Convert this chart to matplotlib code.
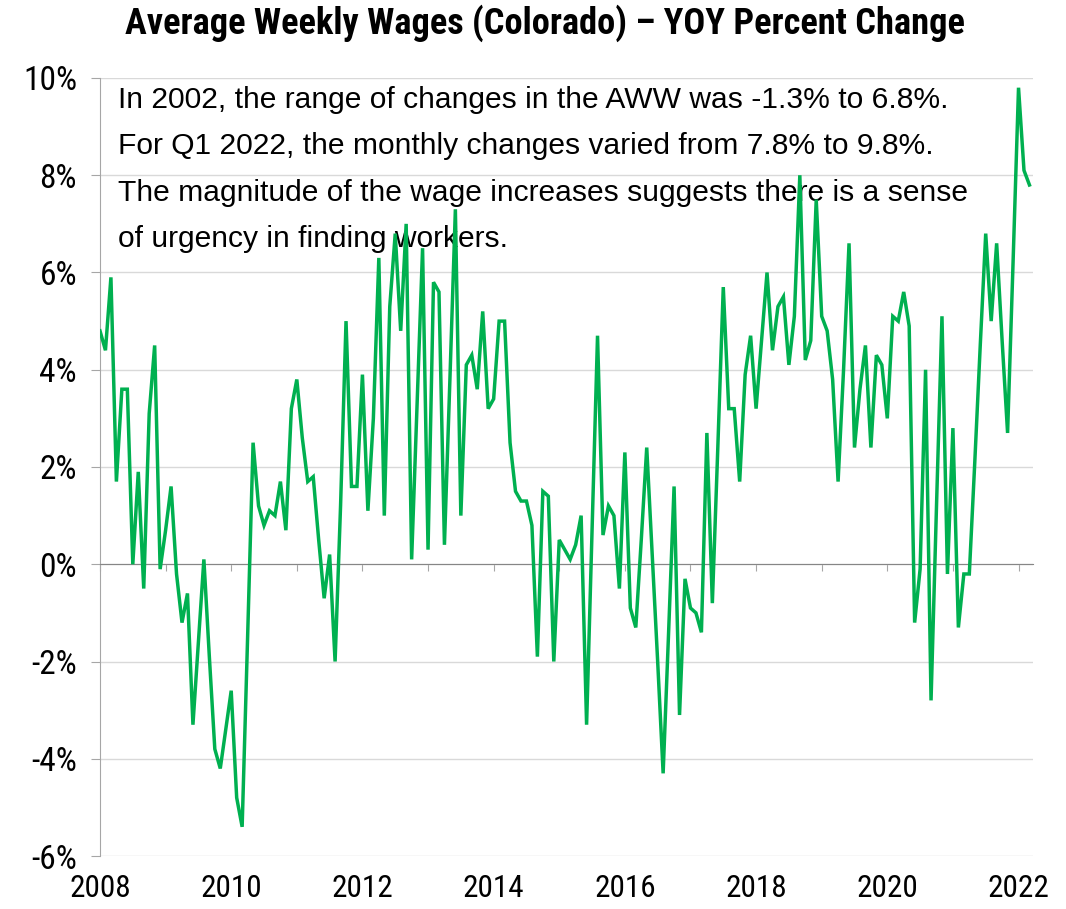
import numpy as np
import matplotlib.pyplot as plt
from matplotlib.ticker import MultipleLocator, FuncFormatter

# monthly YOY % change, Jan 2008 .. Mar 2022
yoy_2008 = [4.8, 4.4, 5.9, 1.7, 3.6, 3.6, 0.0, 1.9, -0.5, 3.1, 4.5, -0.1]
yoy_2009 = [0.7, 1.6, -0.2, -1.2, -0.6, -3.3, -1.6, 0.1, -1.9, -3.8, -4.2, -3.4]
yoy_2010 = [-2.6, -4.8, -5.4, -1.5, 2.5, 1.2, 0.8, 1.1, 1.0, 1.7, 0.7, 3.2]
yoy_2011 = [3.8, 2.6, 1.7, 1.8, 0.5, -0.7, 0.2, -2.0, 1.2, 5.0, 1.6, 1.6]
yoy_2012 = [3.9, 1.1, 3.0, 6.3, 1.0, 5.3, 6.8, 4.8, 7.0, 0.1, 3.3, 6.5]
yoy_2013 = [0.3, 5.8, 5.6, 0.4, 3.8, 7.3, 1.0, 4.1, 4.3, 3.6, 5.2, 3.2]
yoy_2014 = [3.4, 5.0, 5.0, 2.5, 1.5, 1.3, 1.3, 0.8, -1.9, 1.5, 1.4, -2.0]
yoy_2015 = [0.5, 0.3, 0.1, 0.4, 1.0, -3.3, 0.7, 4.7, 0.6, 1.2, 1.0, -0.5]
yoy_2016 = [2.3, -0.9, -1.3, 0.5, 2.4, 0.2, -2.0, -4.3, -1.4, 1.6, -3.1, -0.3]
yoy_2017 = [-0.9, -1.0, -1.4, 2.7, -0.8, 2.4, 5.7, 3.2, 3.2, 1.7, 3.9, 4.7]
yoy_2018 = [3.2, 4.6, 6.0, 4.4, 5.3, 5.5, 4.1, 5.1, 8.0, 4.2, 4.6, 7.5]
yoy_2019 = [5.1, 4.8, 3.8, 1.7, 4.0, 6.6, 2.4, 3.6, 4.5, 2.4, 4.3, 4.1]
yoy_2020 = [3.0, 5.1, 5.0, 5.6, 4.9, -1.2, -0.1, 4.0, -2.8, 1.2, 5.1, -0.2]
yoy_2021 = [2.8, -1.3, -0.2, -0.2, 2.1, 4.5, 6.8, 5.0, 6.6, 4.6, 2.7, 6.2]
yoy_2022 = [9.8, 8.1, 7.8]

yoy = (yoy_2008 + yoy_2009 + yoy_2010 + yoy_2011 + yoy_2012 + yoy_2013 + yoy_2014
       + yoy_2015 + yoy_2016 + yoy_2017 + yoy_2018 + yoy_2019 + yoy_2020 + yoy_2021 + yoy_2022)
start_year = 2008
x = start_year + np.arange(len(yoy)) / 12

year_labels = [2008, 2010, 2012, 2014, 2016, 2018, 2020, 2022]

title = 'Average Weekly Wages (Colorado) – YOY Percent Change'
note = ('In 2002, the range of changes in the AWW was -1.3% to 6.8%.\n'
        'For Q1 2022, the monthly changes varied from 7.8% to 9.8%.\n'
        'The magnitude of the wage increases suggests there is a sense\n'
        'of urgency in finding workers.')

narrow = ['Roboto Condensed', 'Liberation Sans', 'DejaVu Sans']
plt.rcParams['font.family'] = ['Liberation Sans', 'DejaVu Sans']

fig = plt.figure(figsize=(10.66, 9.09), dpi=100)
ax = fig.add_axes([0.0938, 0.0583, 0.8752, 0.8559])

ax.plot(x, yoy, color='#00B050', lw=2.5, solid_joinstyle='miter', zorder=3)

ax.set_xlim(2008, 2022.22)
ax.set_ylim(-6, 10)
ax.yaxis.set_major_locator(MultipleLocator(2))
ax.yaxis.set_major_formatter(FuncFormatter(lambda v, p: f'{v:.0f}%'))
ax.grid(axis='y', color='#D9D9D9', lw=1)
ax.set_axisbelow(True)

for s in ['top', 'right']:
    ax.spines[s].set_visible(False)
ax.spines['left'].set_color('#A6A6A6')
ax.spines['bottom'].set_position(('data', 0))
ax.spines['bottom'].set_color('#868686')

ax.xaxis.set_major_locator(MultipleLocator(1))
ax.tick_params(axis='x', length=5, color='#A6A6A6', labelbottom=False)
ax.tick_params(axis='y', length=6.5, color='#A6A6A6', pad=10)
for lab in ax.get_yticklabels():
    lab.set_fontfamily(narrow)
    lab.set_fontsize(24)

sec = ax.secondary_xaxis(0)
sec.set_xticks(year_labels)
sec.tick_params(length=0, pad=13)
sec.spines['bottom'].set_visible(False)
for lab in sec.get_xticklabels():
    lab.set_fontfamily(narrow)
    lab.set_fontsize(22.5)

fig.text(0.511, 0.974, title, ha='center', va='center', fontsize=26.2,
         fontweight='bold', family=narrow)

ax.text(0.019, 0.99, note, transform=ax.transAxes, ha='left', va='top',
        fontsize=21.6, linespacing=1.84, zorder=2)

fig.savefig('out.png', dpi=100)
